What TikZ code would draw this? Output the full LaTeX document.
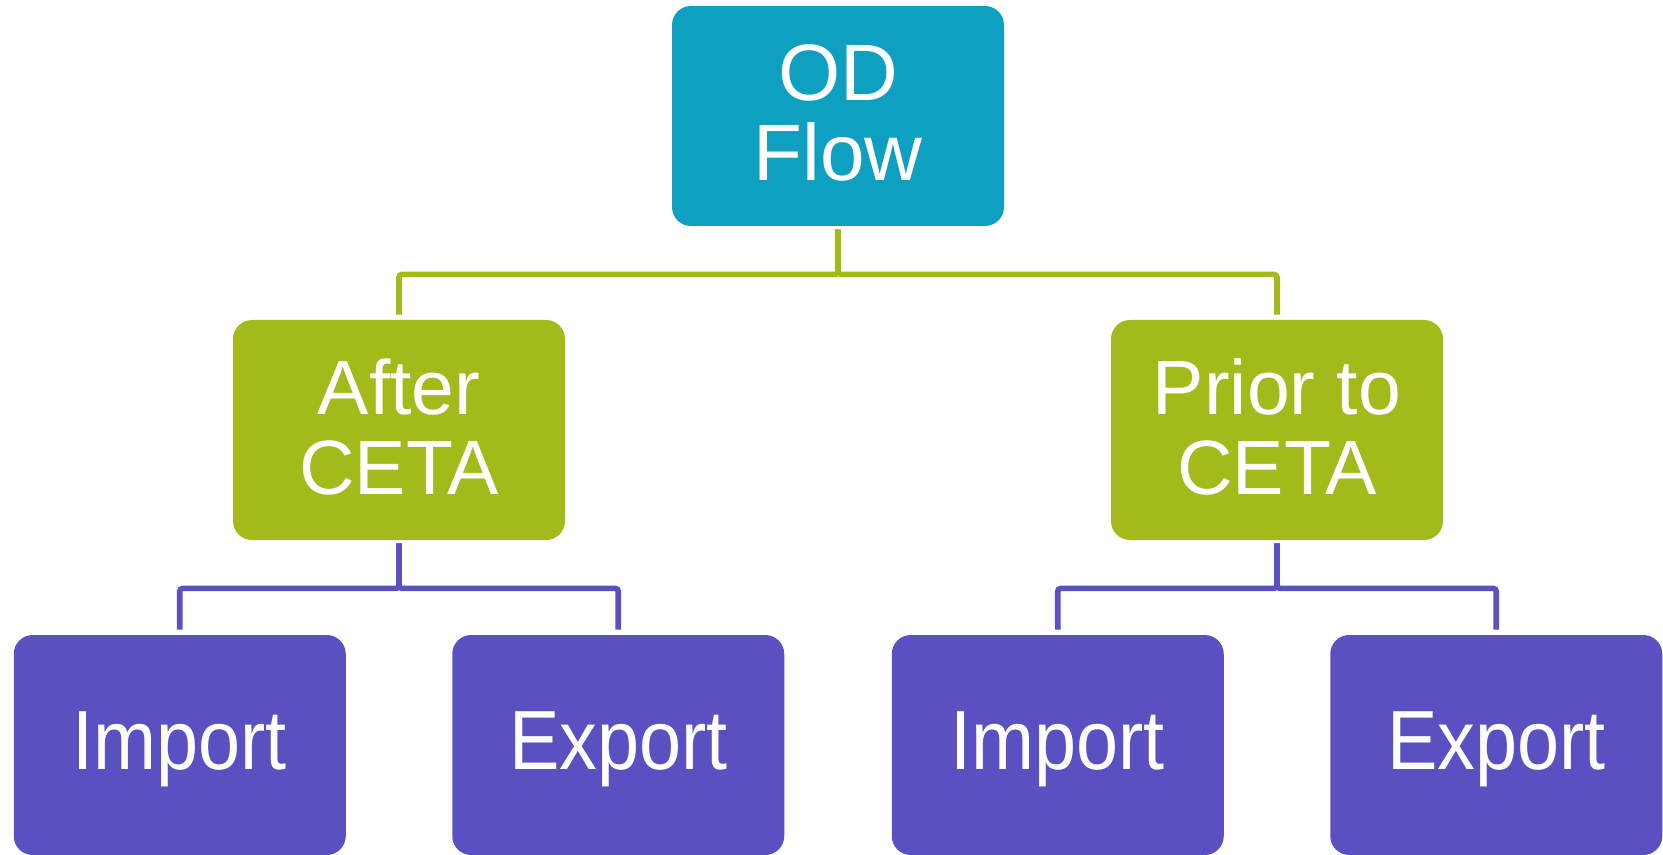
\documentclass[tikz,border=0pt]{standalone}
\usepackage{fontspec}
\setmainfont{Liberation Sans}
\newfontfamily\leaffont[FakeStretch=0.9]{Liberation Sans}
\usetikzlibrary{positioning}
\definecolor{odteal}{HTML}{0F9FC1}
\definecolor{cetagreen}{HTML}{A3BA1A}
\definecolor{tradepurple}{HTML}{5A50C1}
\tikzset{
        treenode/.style={align=center,inner sep=0pt,rounded corners=9.5pt,text=white,
                         minimum width=166pt,minimum height=110pt},
        % Top of the tree
        node_root/.style={treenode, fill=odteal, text depth=3pt, font=\fontsize{40}{40}\selectfont},
        % CETA split
        node_ceta/.style={treenode, fill=cetagreen, text depth=3pt, font=\fontsize{38.5}{40}\selectfont},
        % Import / export leaves
        node_trade/.style={treenode, fill=tradepurple, text depth=4pt, font=\leaffont\fontsize{42}{42}\selectfont}
}

\begin{document}
\begin{tikzpicture}[
            level/.style={level distance=157pt},
            level 1/.style={sibling distance=439pt,
                edge from parent/.style={draw=cetagreen, line width=2.8pt, rounded corners=1.5pt}},
            level 2/.style={sibling distance=219.25pt, level distance=157.5pt,
                edge from parent/.style={draw=tradepurple, line width=2.8pt, rounded corners=1.5pt}},
            edge from parent path={([yshift=-1.5pt]\tikzparentnode.south) -- ++(0,-22.5pt)
                -| ([yshift=2.5pt]\tikzchildnode.north)}
        ]
            \useasboundingbox (0,0) rectangle (831.5pt,-427.5pt);
            \node[node_root] (odflow) at (419pt,-58pt) {OD\\Flow}
                child { node[node_ceta] (after) {After\\CETA}
                    child { node[node_trade] (afterimport) {Import} }
                    child { node[node_trade] (afterexport) {Export} }
                }
                child { node[node_ceta] (prior) {Prior to\\CETA}
                    child { node[node_trade] (priorimport) {Import} }
                    child { node[node_trade] (priorexport) {Export} }
                }
            ;
        \end{tikzpicture}
\end{document}
